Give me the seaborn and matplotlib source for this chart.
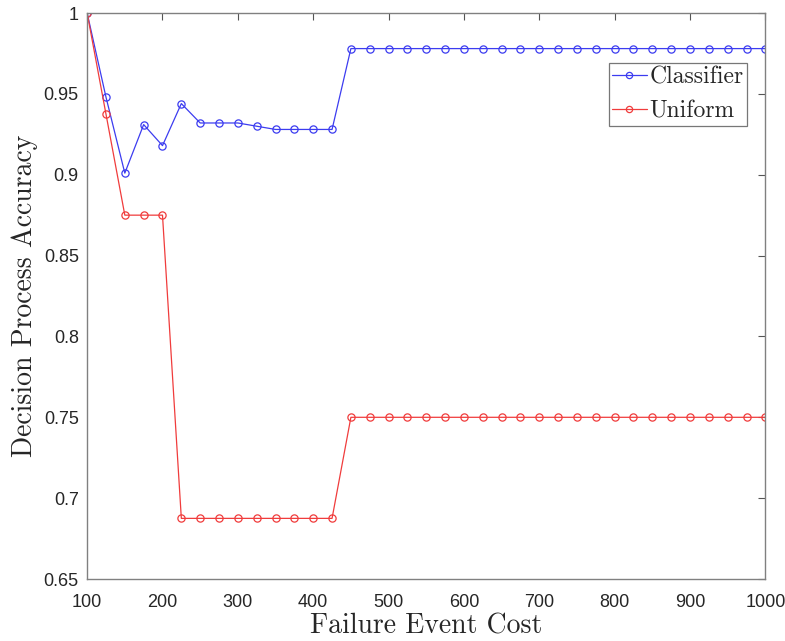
import matplotlib
matplotlib.use("Agg")
import matplotlib.pyplot as plt
import numpy as np
import pandas as pd
import seaborn as sns

# ---------------------------------------------------------------------------
# Data
# ---------------------------------------------------------------------------
cost = list(range(100, 1001, 25))

classifier = [1.0, 0.948, 0.901, 0.931, 0.918, 0.944, 0.932, 0.932, 0.932,
              0.930, 0.928, 0.928, 0.928, 0.928] + [0.978] * 23

uniform = [1.0, 0.9375, 0.875, 0.875, 0.875] + [0.6875] * 9 + [0.75] * 23

series_names = ["Classifier", "Uniform"]
series_colors = {"Classifier": "#3c3cf0", "Uniform": "#f03c3c"}

xticks = list(range(100, 1001, 100))
yticks = [0.65, 0.7, 0.75, 0.8, 0.85, 0.9, 0.95, 1.0]
ytick_labels = ["0.65", "0.7", "0.75", "0.8", "0.85", "0.9", "0.95", "1"]

df = pd.DataFrame({
    "cost": cost * 2,
    "accuracy": classifier + uniform,
    "method": ["Classifier"] * len(cost) + ["Uniform"] * len(cost),
})

# ---------------------------------------------------------------------------
# Plot
# ---------------------------------------------------------------------------
sns.set_style("white")
plt.rcParams["font.family"] = ["Liberation Sans", "DejaVu Sans"]

fig = plt.figure(figsize=(7.85, 6.41), dpi=100)
ax = fig.add_axes([0.111, 0.0967, 0.864, 0.883])

sns.lineplot(data=df, x="cost", y="accuracy", hue="method",
             hue_order=series_names, palette=series_colors,
             marker="o", markersize=5.2, markerfacecolor="none",
             markeredgewidth=0.9, linewidth=0.9, ax=ax)

for ln in ax.lines:
    ln.set_markeredgecolor(ln.get_color())
    ln.set_markerfacecolor("none")

ax.set_xlim(100, 1000)
ax.set_ylim(0.65, 1.0)
ax.set_xticks(xticks)
ax.set_yticks(yticks)
ax.set_yticklabels(ytick_labels)
ax.tick_params(direction="in", length=5, width=0.8, color="#555555",
               labelsize=13, top=True, right=True, labelcolor="#262626")
ax.tick_params(axis="x", pad=11)
ax.tick_params(axis="y", pad=6)
for sp in ax.spines.values():
    sp.set_color("#808080")
    sp.set_linewidth(1.0)

serif = ["cmr10", "DejaVu Serif"]
ax.set_xlabel("Failure Event Cost", fontsize=20, family=serif, labelpad=1)
ax.set_ylabel("Decision Process Accuracy", fontsize=20, family=serif, labelpad=4)

leg = ax.legend(loc="upper right", bbox_to_anchor=(0.973, 0.912),
                borderaxespad=0,
                prop={"family": serif, "size": 17}, frameon=True,
                fancybox=False, borderpad=0.15, handlelength=1.45,
                handletextpad=0.12, labelspacing=0.5)
leg.get_frame().set_edgecolor("#555555")
leg.get_frame().set_linewidth(0.9)
for h in leg.legend_handles:
    h.set_markerfacecolor("none")
    h.set_markeredgecolor(h.get_color())
    h.set_markersize(4.5)

fig.savefig("out.png", dpi=100)
